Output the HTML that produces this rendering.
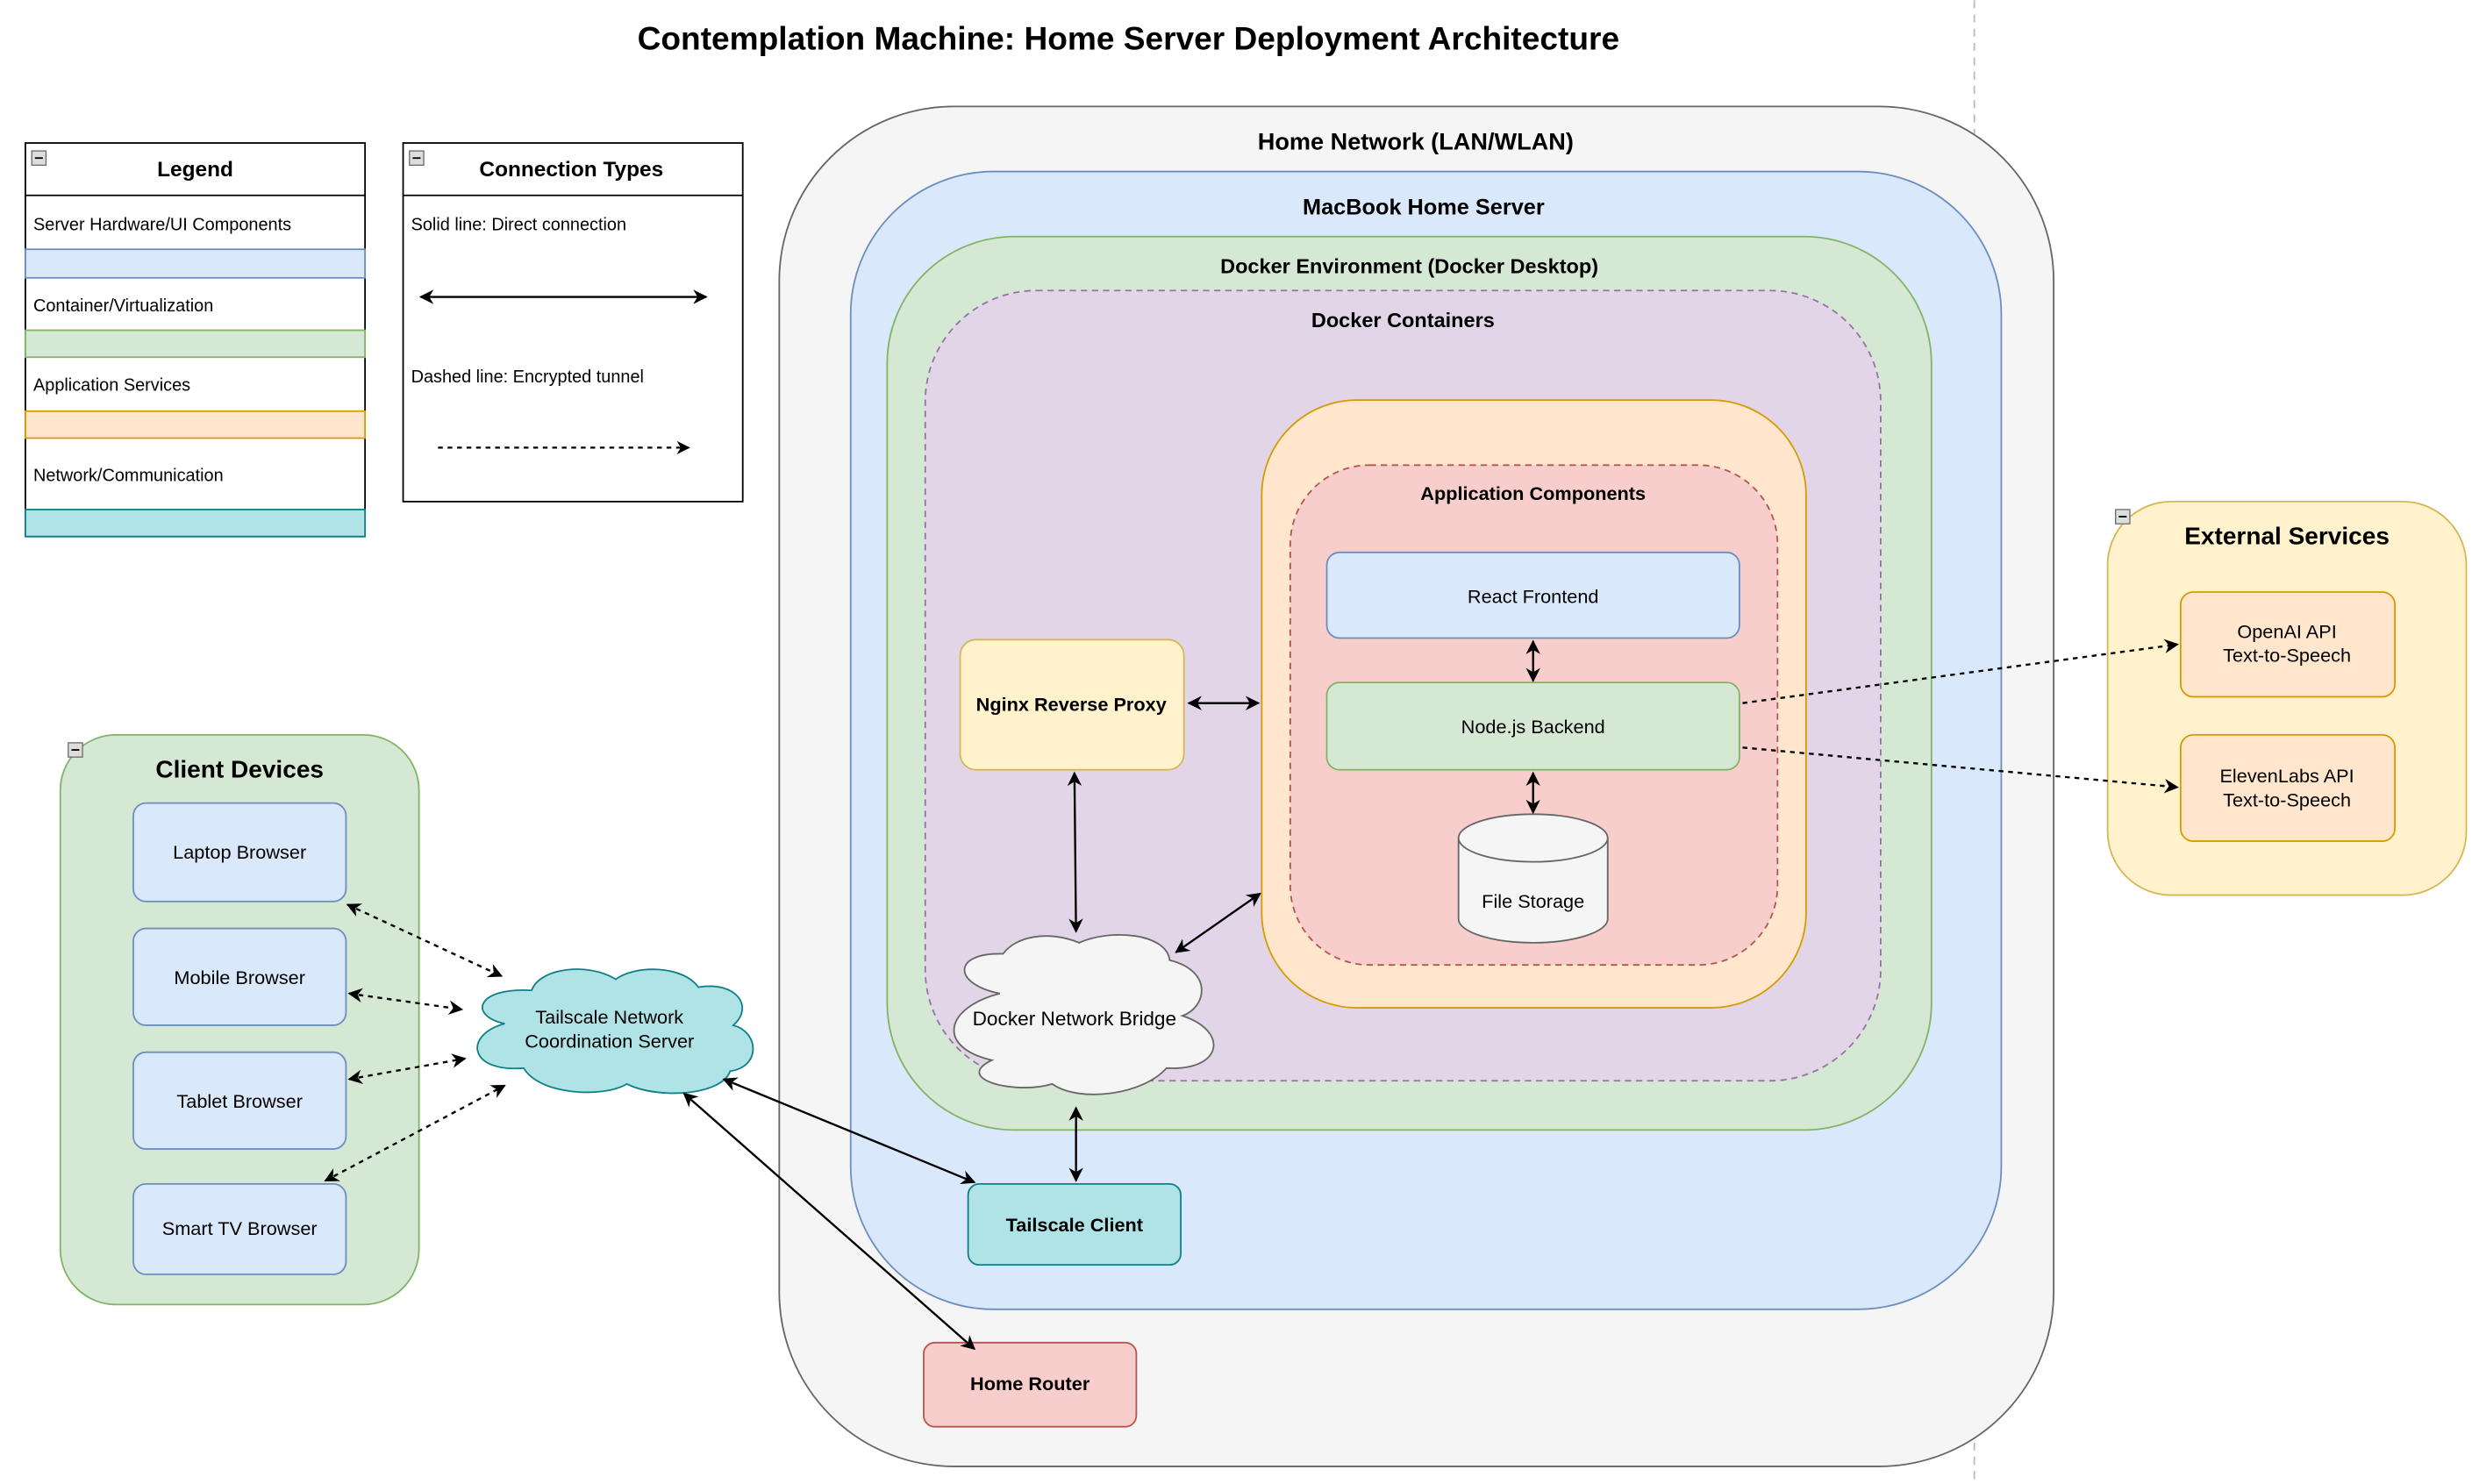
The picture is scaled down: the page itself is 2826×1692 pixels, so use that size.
<!DOCTYPE html>
<html><head><meta charset="utf-8"><style>
html,body{margin:0;padding:0;background:#fff;width:2826px;height:1692px;overflow:hidden}
svg{display:block}
text{font-family:"Liberation Sans",Arial,sans-serif;fill:#000}
.b{font-weight:bold}
</style></head><body>
<svg width="2826" height="1692" viewBox="0 0 1562 935" xmlns="http://www.w3.org/2000/svg">
<defs>
<marker id="a" viewBox="0 0 10 10" refX="9" refY="5" markerWidth="7" markerHeight="7" orient="auto-start-reverse"><path d="M0,0 L10,5 L0,10 L3,5 z" fill="#000"/></marker>
</defs>
<rect width="1562" height="935" fill="#fff"/>
<line x1="1244" y1="0" x2="1244" y2="935" stroke="#bbb" stroke-dasharray="5,4"/>
<text x="711" y="31" text-anchor="middle" class="b" font-size="20.5">Contemplation Machine: Home Server Deployment Architecture</text>

<!-- Legend -->
<rect x="16" y="90" width="214" height="248" fill="#fff" stroke="#000"/>
<line x1="16" y1="123" x2="230" y2="123" stroke="#000"/>
<rect x="20" y="95" width="9" height="9" fill="#ddd" stroke="#666" stroke-width="0.7"/><line x1="22" y1="99.5" x2="27" y2="99.5" stroke="#000"/>
<text x="123" y="111" text-anchor="middle" class="b" font-size="13.5">Legend</text>
<text x="21" y="145" font-size="11">Server Hardware/UI Components</text>
<rect x="16" y="157" width="214" height="18" fill="#dae8fc" stroke="#6c8ebf"/>
<text x="21" y="196" font-size="11">Container/Virtualization</text>
<rect x="16" y="208" width="214" height="17" fill="#d5e8d4" stroke="#82b366"/>
<text x="21" y="246" font-size="11">Application Services</text>
<rect x="16" y="259" width="214" height="17" fill="#ffe6cc" stroke="#d79b00"/>
<text x="21" y="303" font-size="11">Network/Communication</text>
<rect x="16" y="321" width="214" height="17" fill="#b0e3e6" stroke="#0e8088"/>

<rect x="254" y="90" width="214" height="226" fill="#fff" stroke="#000"/>
<line x1="254" y1="123" x2="468" y2="123" stroke="#000"/>
<rect x="258" y="95" width="9" height="9" fill="#ddd" stroke="#666" stroke-width="0.7"/><line x1="260" y1="99.5" x2="265" y2="99.5" stroke="#000"/>
<text x="360" y="111" text-anchor="middle" class="b" font-size="13.5">Connection Types</text>
<text x="259" y="145" font-size="11">Solid line: Direct connection</text>
<line x1="265" y1="187" x2="445" y2="187" stroke="#000" stroke-width="1.3" marker-start="url(#a)" marker-end="url(#a)"/>
<text x="259" y="241" font-size="11">Dashed line: Encrypted tunnel</text>
<line x1="276" y1="282" x2="434" y2="282" stroke="#000" stroke-width="1.2" stroke-dasharray="3,3" marker-end="url(#a)"/>

<!-- Home network -->
<rect x="491" y="67" width="803" height="857" rx="110" fill="#f5f5f5" stroke="#666"/>
<text x="892" y="94" text-anchor="middle" class="b" font-size="15">Home Network (LAN/WLAN)</text>
<rect x="536" y="108" width="725" height="717" rx="90" fill="#dae8fc" stroke="#6c8ebf"/>
<text x="897" y="135" text-anchor="middle" class="b" font-size="14">MacBook Home Server</text>
<rect x="559" y="149" width="658" height="563" rx="80" fill="#d5e8d4" stroke="#82b366"/>
<text x="888" y="172" text-anchor="middle" class="b" font-size="13">Docker Environment (Docker Desktop)</text>
<rect x="583" y="183" width="602" height="498" rx="70" fill="#e1d5e7" stroke="#9673a6" stroke-dasharray="4,3"/>
<text x="884" y="206" text-anchor="middle" class="b" font-size="13">Docker Containers</text>
<rect x="795" y="252" width="343" height="383" rx="60" fill="#ffe6cc" stroke="#d79b00"/>
<rect x="813" y="293" width="307" height="315" rx="50" fill="#f8cecc" stroke="#b85450" stroke-dasharray="4,3"/>
<text x="966" y="315" text-anchor="middle" class="b" font-size="12">Application Components</text>
<rect x="836" y="348" width="260" height="54" rx="8" fill="#dae8fc" stroke="#6c8ebf"/>
<text x="966" y="380" text-anchor="middle" font-size="12">React Frontend</text>
<rect x="836" y="430" width="260" height="55" rx="8" fill="#d5e8d4" stroke="#82b366"/>
<text x="966" y="462" text-anchor="middle" font-size="12">Node.js Backend</text>
<path d="M919,528 L919,579 A47,15 0 0 0 1013,579 L1013,528" fill="#f5f5f5" stroke="#666"/>
<ellipse cx="966" cy="528" rx="47" ry="15" fill="#f5f5f5" stroke="#666"/>
<text x="966" y="572" text-anchor="middle" font-size="12">File Storage</text>

<rect x="605" y="403" width="141" height="82" rx="10" fill="#fff2cc" stroke="#d6b656"/>
<text x="675" y="448" text-anchor="middle" class="b" font-size="12">Nginx Reverse Proxy</text>

<path d="M630,626 C600,620 600,600 632,601 C640,590 660,586 680,594 C700,585 735,588 737,605 C765,612 760,635 745,640 C775,650 770,675 735,673 C720,690 680,695 663,683 C640,690 600,680 625,668 C590,660 595,635 630,626 z" fill="#f5f5f5" stroke="#666"/>
<text x="677" y="646" text-anchor="middle" font-size="12.5">Docker Network Bridge</text>

<rect x="610" y="746" width="134" height="51" rx="7" fill="#b0e3e6" stroke="#0e8088"/>
<text x="677" y="776" text-anchor="middle" class="b" font-size="12">Tailscale Client</text>
<rect x="582" y="846" width="134" height="53" rx="7" fill="#f8cecc" stroke="#b85450"/>
<text x="649" y="876" text-anchor="middle" class="b" font-size="12">Home Router</text>

<!-- External -->
<rect x="1328" y="316" width="226" height="248" rx="40" fill="#fff2cc" stroke="#d6b656"/>
<rect x="1333" y="321" width="9" height="9" fill="#ddd" stroke="#666" stroke-width="0.7"/><line x1="1335" y1="325.5" x2="1340" y2="325.5" stroke="#000"/>
<text x="1441" y="343" text-anchor="middle" class="b" font-size="15.5">External Services</text>
<rect x="1374" y="373" width="135" height="66" rx="8" fill="#ffe6cc" stroke="#d79b00"/>
<text x="1441" y="402" text-anchor="middle" font-size="12">OpenAI API</text>
<text x="1441" y="417" text-anchor="middle" font-size="12">Text-to-Speech</text>
<rect x="1374" y="463" width="135" height="67" rx="8" fill="#ffe6cc" stroke="#d79b00"/>
<text x="1441" y="493" text-anchor="middle" font-size="12">ElevenLabs API</text>
<text x="1441" y="508" text-anchor="middle" font-size="12">Text-to-Speech</text>

<!-- Client devices -->
<rect x="38" y="463" width="226" height="359" rx="35" fill="#d5e8d4" stroke="#82b366"/>
<rect x="43" y="468" width="9" height="9" fill="#ddd" stroke="#666" stroke-width="0.7"/><line x1="45" y1="472.5" x2="50" y2="472.5" stroke="#000"/>
<text x="151" y="490" text-anchor="middle" class="b" font-size="15.5">Client Devices</text>
<rect x="84" y="506" width="134" height="62" rx="8" fill="#dae8fc" stroke="#6c8ebf"/>
<text x="151" y="541" text-anchor="middle" font-size="12">Laptop Browser</text>
<rect x="84" y="585" width="134" height="61" rx="8" fill="#dae8fc" stroke="#6c8ebf"/>
<text x="151" y="620" text-anchor="middle" font-size="12">Mobile Browser</text>
<rect x="84" y="663" width="134" height="61" rx="8" fill="#dae8fc" stroke="#6c8ebf"/>
<text x="151" y="698" text-anchor="middle" font-size="12">Tablet Browser</text>
<rect x="84" y="746" width="134" height="57" rx="8" fill="#dae8fc" stroke="#6c8ebf"/>
<text x="151" y="778" text-anchor="middle" font-size="12">Smart TV Browser</text>

<path d="M335,624 C300,622 295,640 318,645 C292,652 295,676 330,673 C340,690 380,692 395,683 C415,693 455,690 460,675 C480,672 478,650 462,646 C475,635 465,618 440,622 C430,608 400,608 388,617 C370,606 340,610 335,624 z" fill="#b0e3e6" stroke="#0e8088"/>
<text x="384" y="645" text-anchor="middle" font-size="12">Tailscale Network</text>
<text x="384" y="660" text-anchor="middle" font-size="12">Coordination Server</text>

<!-- Arrows -->
<g stroke="#000" stroke-width="1.3" fill="none">
<line x1="749" y1="443" x2="793" y2="443" marker-start="url(#a)" marker-end="url(#a)"/>
<line x1="677" y1="487" x2="678" y2="587" marker-start="url(#a)" marker-end="url(#a)"/>
<line x1="741" y1="600" x2="794" y2="563" marker-start="url(#a)" marker-end="url(#a)"/>
<line x1="966" y1="404" x2="966" y2="429" marker-start="url(#a)" marker-end="url(#a)"/>
<line x1="966" y1="487" x2="966" y2="512" marker-start="url(#a)" marker-end="url(#a)"/>
<line x1="678" y1="698" x2="678" y2="744" marker-start="url(#a)" marker-end="url(#a)"/>
<line x1="456" y1="680" x2="614" y2="745" marker-start="url(#a)" marker-end="url(#a)"/>
<line x1="431" y1="689" x2="614" y2="850" marker-start="url(#a)" marker-end="url(#a)"/>
</g>
<g stroke="#000" stroke-width="1.3" fill="none" stroke-dasharray="3,3">
<line x1="1098" y1="443" x2="1372" y2="406" marker-end="url(#a)"/>
<line x1="1098" y1="471" x2="1372" y2="496" marker-end="url(#a)"/>
<line x1="219" y1="570" x2="316" y2="615" marker-start="url(#a)" marker-end="url(#a)"/>
<line x1="220" y1="626" x2="291" y2="636" marker-start="url(#a)" marker-end="url(#a)"/>
<line x1="220" y1="680" x2="293" y2="667" marker-start="url(#a)" marker-end="url(#a)"/>
<line x1="205" y1="744" x2="318" y2="684" marker-start="url(#a)" marker-end="url(#a)"/>
</g>
</svg>
</body></html>
